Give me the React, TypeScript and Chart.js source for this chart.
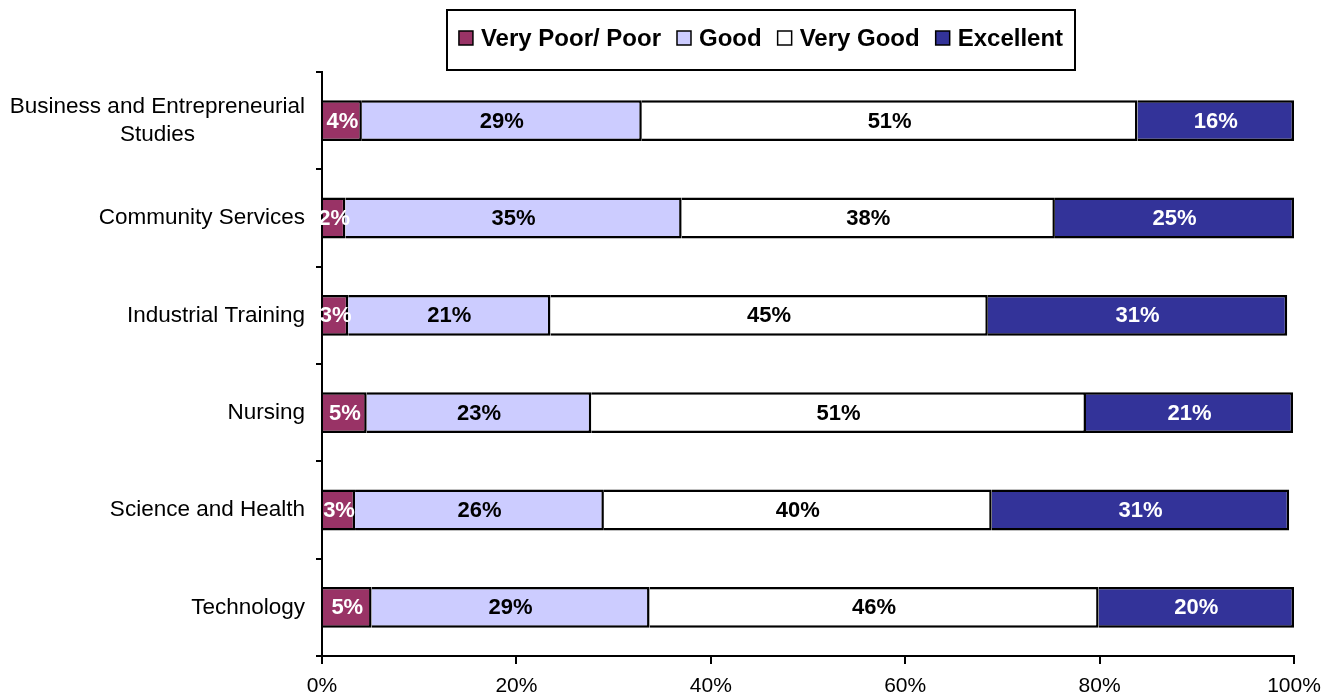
import React, { useEffect, useRef } from "react";
import { Chart, registerables } from "chart.js";
Chart.register(...registerables);

const categories: string[][] = [
  ["Business and Entrepreneurial", "Studies"],
  ["Community Services"],
  ["Industrial Training"],
  ["Nursing"],
  ["Science and Health"],
  ["Technology"],
];
const seriesNames = ["Very Poor/ Poor", "Good", "Very Good", "Excellent"];
const veryPoorPoor = [4.1, 2.4, 2.7, 4.6, 3.4, 5.1];
const good = [28.8, 34.6, 20.8, 23.1, 25.6, 28.6];
const veryGood = [51.0, 38.4, 45.0, 50.9, 39.9, 46.2];
const excellent = [16.1, 24.6, 30.8, 21.3, 30.6, 20.1];
const xTickValues = [0, 20, 40, 60, 80, 100];

const fillColors = ["#993366", "#CCCCFF", "#FFFFFF", "#333399"];
const labelColors = ["#FFFFFF", "#000000", "#000000", "#FFFFFF"];
const FONT = '"Liberation Sans", Arial, sans-serif';

const dataLabelPlugin = {
  id: "dataLabels",
  afterDatasetsDraw(chart: any) {
    const ctx = chart.ctx;
    ctx.save();
    ctx.font = `bold 22px ${FONT}`;
    ctx.textAlign = "center";
    ctx.textBaseline = "middle";
    chart.data.datasets.forEach((ds: any, di: number) => {
      const meta = chart.getDatasetMeta(di);
      meta.data.forEach((el: any, i: number) => {
        const v = ds.data[i];
        const cx = (el.x + el.base) / 2;
        ctx.fillStyle = labelColors[di];
        ctx.fillText(Math.round(v) + "%", cx, el.y + 1);
      });
    });
    ctx.restore();
  },
};

const yLabelPlugin = {
  id: "yLabels",
  afterDraw(chart: any) {
    const ctx = chart.ctx;
    const y = chart.scales.y;
    const right = chart.chartArea.left - 17;
    const lh = 28;
    ctx.save();
    ctx.font = `22.5px ${FONT}`;
    ctx.fillStyle = "#000";
    ctx.textAlign = "center";
    ctx.textBaseline = "middle";
    categories.forEach((lines, i) => {
      const py = y.getPixelForValue(i);
      const maxW = Math.max(...lines.map((l) => ctx.measureText(l).width));
      const cx = right - maxW / 2;
      lines.forEach((l, j) => {
        ctx.fillText(l, cx, py + (j - (lines.length - 1) / 2) * lh);
      });
    });
    ctx.restore();
  },
};

const legendPlugin = {
  id: "boxLegend",
  afterDraw(chart: any) {
    const ctx = chart.ctx;
    const boxX = 447, boxY = 10, boxW = 628, boxH = 60;
    ctx.save();
    ctx.strokeStyle = "#000";
    ctx.lineWidth = 2;
    ctx.strokeRect(boxX, boxY, boxW, boxH);
    ctx.font = `bold 24px ${FONT}`;
    ctx.textBaseline = "middle";
    ctx.textAlign = "left";
    const sq = 14, gapAfterBox = 8, itemGap = 16;
    const widths = seriesNames.map((n) => sq + gapAfterBox + ctx.measureText(n).width);
    const total = widths.reduce((a, b) => a + b, 0) + itemGap * (seriesNames.length - 1);
    let x = boxX + (boxW - total) / 2;
    const cy = boxY + 28;
    seriesNames.forEach((n, i) => {
      ctx.fillStyle = fillColors[i];
      ctx.fillRect(x, cy - sq / 2, sq, sq);
      ctx.lineWidth = 1.5;
      ctx.strokeStyle = "#000";
      ctx.strokeRect(x, cy - sq / 2, sq, sq);
      ctx.fillStyle = "#000";
      ctx.fillText(n, x + sq + gapAfterBox, cy + 1);
      x += widths[i] + itemGap;
    });
    ctx.restore();
  },
};

export default function App() {
  const ref = useRef<HTMLCanvasElement | null>(null);
  useEffect(() => {
    if (!ref.current) return;
    const series = [veryPoorPoor, good, veryGood, excellent];
    const chart = new Chart(ref.current, {
      type: "bar",
      data: {
        labels: categories.map((c) => c.join(" ")),
        datasets: series.map((d, i) => ({
          label: seriesNames[i],
          data: d,
          backgroundColor: fillColors[i],
          borderColor: "#000",
          borderWidth: 2.5,
          barPercentage: 0.42,
          categoryPercentage: 1,
        })),
      },
      options: {
        indexAxis: "y",
        responsive: false,
        animation: false,
        layout: { padding: { top: 72, right: 40, bottom: 0, left: 0 } },
        plugins: {
          legend: { display: false },
          tooltip: { enabled: false },
          title: { display: false },
        },
        scales: {
          x: {
            stacked: true,
            min: 0,
            max: 100,
            afterBuildTicks: (s: any) => {
              s.ticks = xTickValues.map((v) => ({ value: v }));
            },
            afterFit: (s: any) => {
              s.height = 40;
            },
            ticks: {
              callback: (v: any) => v + "%",
              color: "#000",
              font: { family: FONT, size: 21 },
              padding: 10,
              maxRotation: 0,
            },
            grid: {
              drawOnChartArea: false,
              drawTicks: true,
              tickLength: 8,
              color: "#000",
              lineWidth: 2,
            },
            border: { display: true, color: "#000", width: 2 },
          },
          y: {
            stacked: true,
            afterFit: (s: any) => {
              s.width = 322;
            },
            ticks: { color: "rgba(0,0,0,0)", font: { family: FONT, size: 21 } },
            grid: {
              offset: true,
              drawOnChartArea: false,
              drawTicks: true,
              tickLength: 6,
              color: "#000",
              lineWidth: 2,
            },
            border: { display: true, color: "#000", width: 2 },
          },
        },
      },
      plugins: [dataLabelPlugin, yLabelPlugin, legendPlugin],
    } as any);
    return () => chart.destroy();
  }, []);
  return (
    <div style={{ position: "fixed", left: 0, top: 0, width: 1334, height: 696, background: "#fff" }}>
      <canvas ref={ref} width={1334} height={696} />
    </div>
  );
}
